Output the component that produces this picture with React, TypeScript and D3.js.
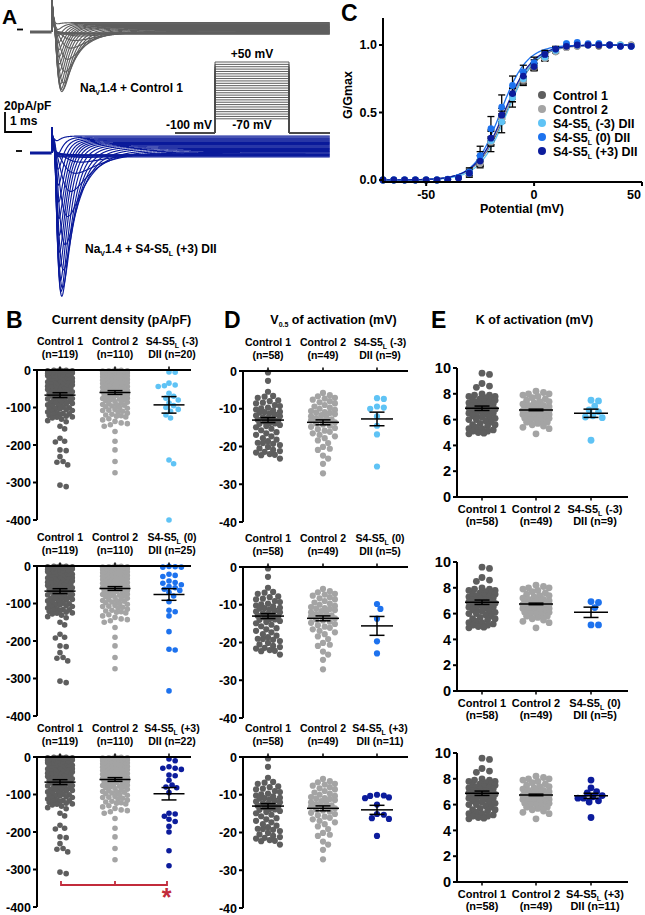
import React from 'react';
import * as d3 from 'd3';

const FONT = '"Liberation Sans", Arial, Helvetica, sans-serif';

// colours of the five groups
const GREY_DARK = '#5e5e5e';
const GREY_LIGHT = '#a4a4a4';
const BLUE_LIGHT = '#5fc3f5';
const BLUE = '#1d72ee';
const NAVY = '#0c1c9c';
const SIG_RED = '#c22b3b';

// ---------- A: step protocol and evoked currents (pA/pF) ----------
const stepMv = [-70, -65, -60, -55, -50, -45, -40, -35, -30, -25, -20, -15, -10, -5, 0, 5, 10, 15, 20, 25, 30, 35, 40, 45, 50];
const peakCtrl = [0, 0, 0, -0.15, -0.6, -1.7, -4.4, -9.4, -17.4, -29, -42, -53.6, -61, -63, -61, -56.5, -50.8, -44.2, -37.7, -31.2, -24.6, -18.1, -11.6, -5.8, -0.7];
const peakMut = [0, 0, 0, -0.3, -1.5, -4.4, -10, -22, -41, -67, -96, -122, -141, -150, -146, -136, -123, -109, -93, -77, -61, -45, -30, -16, -3];
const tauAct = [0.8, 0.75, 0.7, 0.65, 0.6, 0.5, 0.42, 0.34, 0.27, 0.22, 0.18, 0.15, 0.14, 0.13, 0.12, 0.11, 0.1, 0.095, 0.09, 0.085, 0.08, 0.075, 0.07, 0.068, 0.065];
const tauInact = [2.4, 2.3, 2.2, 2.1, 2.0, 1.7, 1.4, 1.1, 0.85, 0.7, 0.58, 0.5, 0.43, 0.38, 0.34, 0.31, 0.29, 0.27, 0.26, 0.25, 0.24, 0.23, 0.22, 0.21, 0.2];
const leakCtrl = [-2.2, -1.7, -1.4, -0.9, -0.4, 0, 0.4, 0.9, 1.3, 1.7, 2.2, 2.6, 3.0, 3.5, 4.1, 4.5, 4.9, 5.5, 5.9, 6.5, 7.1, 7.7, 8.3, 8.8, 9.4];
const leakMut = [-4, -3.2, -2.3, -1.5, -0.7, 0, 0.9, 1.7, 2.6, 3.5, 4.4, 5.2, 6.1, 7, 7.8, 8.7, 9.6, 10.4, 11.3, 12.2, 13, 13.9, 14.9, 16, 17];
const capCtrl = 45;
const capMut = 26;

// ---------- C: conductance-voltage ----------
const potentialMv = [-70, -65, -60, -55, -50, -45, -40, -35, -30, -25, -20, -15, -10, -5, 0, 5, 10, 15, 20, 25, 30, 35, 40, 45];
const gCtrl1 = [0, 0, 0, 0, 0, 0, 0.004, 0.015, 0.05, 0.13, 0.29, 0.46, 0.61, 0.73, 0.83, 0.9, 0.95, 0.98, 0.99, 1.0, 0.99, 1.0, 1.0, 1.0];
const gCtrl2 = [0, 0, 0, 0, 0, 0, 0.004, 0.014, 0.05, 0.12, 0.28, 0.45, 0.61, 0.74, 0.84, 0.9, 0.95, 0.98, 0.99, 1.0, 1.0, 1.0, 1.0, 1.0];
const gMinus3 = [0, 0, 0, 0, 0, 0, 0.005, 0.02, 0.05, 0.15, 0.29, 0.43, 0.61, 0.75, 0.85, 0.91, 0.96, 1.01, 1.0, 1.0, 1.01, 1.0, 1.0, 0.99];
const gZero = [0, 0, 0, 0, 0, 0, 0.006, 0.02, 0.06, 0.18, 0.38, 0.54, 0.7, 0.8, 0.87, 0.93, 0.97, 1.01, 1.02, 1.01, 1.01, 1.0, 0.99, 0.99];
const gPlus3 = [0, 0, 0, 0, 0, 0, 0.004, 0.015, 0.05, 0.14, 0.31, 0.48, 0.64, 0.77, 0.84, 0.93, 0.97, 0.99, 1.0, 1.0, 1.0, 1.0, 0.99, 0.99];
const semCtrl1 = [0, 0, 0, 0, 0, 0, 0.002, 0.005, 0.01, 0.02, 0.03, 0.03, 0.03, 0.025, 0.02, 0.015, 0.01, 0.005, 0.003, 0.002, 0, 0, 0, 0];
const semCtrl2 = [0, 0, 0, 0, 0, 0, 0.002, 0.005, 0.01, 0.02, 0.03, 0.03, 0.03, 0.025, 0.02, 0.015, 0.01, 0.005, 0.003, 0.002, 0, 0, 0, 0];
const semMinus3 = [0, 0, 0, 0, 0, 0, 0.003, 0.01, 0.03, 0.06, 0.08, 0.08, 0.07, 0.05, 0.04, 0.03, 0.02, 0.01, 0.01, 0.01, 0.01, 0, 0, 0];
const semZero = [0, 0, 0, 0, 0, 0, 0.003, 0.01, 0.03, 0.07, 0.09, 0.09, 0.07, 0.05, 0.04, 0.03, 0.02, 0.01, 0.01, 0.01, 0, 0, 0, 0];
const semPlus3 = [0, 0, 0, 0, 0, 0, 0.002, 0.006, 0.015, 0.04, 0.05, 0.05, 0.04, 0.03, 0.025, 0.02, 0.01, 0.005, 0.005, 0, 0, 0, 0, 0];
const fitHalf = [-12.9, -13.4, -12.5, -15.6, -13.9];
const fitSlope = [6.87, 6.72, 6.45, 6.1, 6.65];

// ---------- B: current density (pA/pF) ----------
const densCtrl1 = [0, -1, -1, -2, -2, -3, -3, -4, -5, -6, -6, -7, -8, -9, -10, -11, -12, -13, -13, -14,
  -15, -16, -17, -18, -19, -20, -22, -23, -24, -25, -26, -28, -28, -29, -31, -32, -34, -35, -36, -38,
  -39, -40, -42, -43, -44, -45, -47, -48, -50, -51, -52, -53, -55, -56, -58, -59, -61, -62, -64, -65,
  -66, -68, -69, -71, -72, -74, -76, -77, -79, -81, -82, -84, -86, -88, -89, -91, -93, -95, -97, -99,
  -101, -103, -104, -106, -108, -110, -112, -114, -116, -118, -119, -121, -123, -125, -126, -14, -33, -46, -63, -87, -102, -117,
  -128, -131, -135, -138, -150, -157, -182, -190, -192, -213, -215, -231, -244, -246, -253, -307, -311];
const densCtrl2 = [0, -1, -2, -2, -3, -4, -5, -5, -6, -7, -8, -9, -10, -11, -12, -13, -14, -15, -16, -17,
  -18, -19, -20, -21, -22, -23, -24, -26, -27, -28, -29, -31, -32, -33, -35, -36, -37, -39, -40, -41,
  -43, -44, -46, -47, -48, -50, -51, -53, -54, -56, -57, -59, -60, -62, -63, -65, -66, -68, -70, -71,
  -73, -75, -76, -78, -80, -82, -84, -86, -88, -90, -92, -94, -96, -98, -100, -102, -105, -107, -110, -112,
  -115, -118, -120, -123, -125, -3, -8, -15, -25, -34, -38, -45, -55, -67, -79, -93, -108, -122,
  -130, -133, -137, -141, -143, -146, -150, -164, -190, -213, -244, -274];
const densMinus3 = [-5, -6, -35, -42, -44, -40, -62, -70, -75, -80, -88, -95, -100, -105, -110, -120, -128, -240, -250, -400];
const densZero = [-1, -2, -3, -3, -22, -25, -28, -40, -44, -46, -50, -55, -58, -62, -65, -70, -80, -95, -118, -122, -133, -175, -222, -224, -333];
const densPlus3 = [-5, -10, -30, -26, -30, -33, -48, -50, -75, -80, -82, -95, -150, -152, -158, -166, -172, -185, -200, -250, -290, -62];
const densMean = [-67, -60, -93, -76, -98];
const densSem = [6.5, 5, 22, 15.5, 16.5];

// ---------- D: V0.5 of activation (mV) ----------
const halfCtrl1 = [-0.4, -2.6, -5.5, -6.6, -6.8, -7.1, -7.8, -8.0, -8.4, -8.6, -9.0, -9.3, -9.7, -9.9, -10.2, -10.4, -10.8, -11.0, -11.2, -11.5,
  -11.8, -12.0, -12.3, -12.7, -12.9, -13.1, -13.4, -13.8, -14.0, -14.3, -14.6, -14.9, -15.3, -15.7, -16.2, -16.5, -16.9, -17.3, -17.8, -18.2,
  -18.6, -19.0, -19.1, -19.3, -19.6, -20.1, -20.5, -20.9, -21.2, -21.4, -21.6, -22.0, -22.2, -22.3, -23.2, -10.9, -12.4, -13.9];
const halfCtrl2 = [-5.8, -6.4, -6.7, -7.1, -7.3, -7.6, -8.0, -8.3, -8.6, -9.0, -9.4, -9.7, -10.0, -10.3, -10.6, -10.9, -11.1, -11.4, -11.7, -12.0,
  -12.2, -12.5, -12.8, -13.1, -13.3, -13.6, -13.9, -14.2, -14.5, -14.8, -15.1, -15.4, -15.8, -16.1, -16.5, -16.9, -17.3, -17.8, -18.4, -19.1,
  -20.1, -20.6, -20.9, -22.4, -23.2, -24.6, -27.1, -11.0, -13.0];
const halfMinus3 = [-7.4, -7.2, -10.0, -9.4, -9.7, -12.0, -14.5, -16.8, -25.3];
const halfZero = [-9.8, -11.1, -13.7, -19.7, -22.9];
const halfPlus3 = [-10.7, -10.3, -10.0, -10.2, -10.9, -12.6, -15.1, -15.3, -16.2, -16.4, -20.9];
const halfMean = [-13.0, -13.6, -12.7, -15.6, -14.0];
const halfSem = [0.65, 0.65, 1.8, 2.5, 1.2];

// ---------- E: K of activation (mV) ----------
const kCtrl1 = [9.6, 9.5, 8.8, 8.6, 8.5, 8.0, 7.9, 7.9, 7.8, 7.8, 7.7, 7.6, 7.6, 7.5, 7.5, 7.4, 7.4, 7.3, 7.2, 7.2,
  7.1, 7.1, 7.0, 7.0, 6.9, 6.9, 6.8, 6.8, 6.7, 6.7, 6.6, 6.6, 6.5, 6.5, 6.4, 6.4, 6.3, 6.2, 6.2, 6.1,
  6.0, 6.0, 5.9, 5.8, 5.7, 5.6, 5.6, 5.5, 5.4, 5.3, 5.3, 5.2, 5.1, 5.1, 5.0, 4.95, 4.9, 7.3];
const kCtrl2 = [8.2, 8.1, 8.0, 8.0, 7.9, 7.8, 7.7, 7.6, 7.5, 7.4, 7.4, 7.3, 7.2, 7.1, 7.1, 7.0, 7.0, 6.9, 6.9, 6.9,
  6.8, 6.8, 6.7, 6.7, 6.6, 6.6, 6.6, 6.5, 6.5, 6.4, 6.4, 6.3, 6.3, 6.2, 6.2, 6.1, 6.1, 6.0, 6.0, 5.9,
  5.8, 5.8, 5.7, 5.6, 5.5, 5.4, 5.3, 4.9, 6.8];
const kMinus3 = [7.5, 7.45, 7.05, 6.75, 6.6, 6.2, 6.15, 6.3, 4.4];
const kZero = [6.86, 6.93, 6.47, 5.12, 5.12];
const kPlus3 = [7.9, 7.3, 7.0, 6.9, 6.7, 6.6, 6.5, 6.5, 6.3, 6.2, 5.0];
const kMean = [6.88, 6.75, 6.49, 6.1, 6.68];
const kSem = [0.17, 0.06, 0.32, 0.4, 0.2];

const nDens = [119, 110, 20, 25, 22];
const nFit = [58, 49, 9, 5, 11];
const mutTags = ['(-3)', '(0)', '(+3)'];
const mutColors = [BLUE_LIGHT, BLUE, NAVY];

// ---------- helpers ----------
const swarm = (vals: number[], y: (v: number) => number, r: number, spread: number) => {
  const pts = vals.map(v => y(v)).sort((a, b) => a - b);
  const minD = 2 * r * 0.92;
  const step = r * 0.55;
  const offsets = [0];
  for (let k = 1; k * step <= spread + 1e-6; k++) offsets.push(k * step, -k * step);
  const placed: { x: number; y: number }[] = [];
  pts.forEach(py => {
    let best = 0, bestD = -1;
    for (const off of offsets) {
      let md = Infinity;
      for (const q of placed) {
        const dy = q.y - py;
        if (Math.abs(dy) >= minD) continue;
        md = Math.min(md, Math.hypot(q.x - off, dy));
      }
      if (md >= minD) { best = off; break; }
      if (md > bestD) { bestD = md; best = off; }
    }
    placed.push({ x: best, y: py });
  });
  return placed;
};

// text with one subscript: before + sub + after
const SubText = ({ pre, sub, post, size = 7, shift = 3 }: any) => (
  <>
    {pre}
    <tspan dy={shift} fontSize={size}>{sub}</tspan>
    <tspan dy={-shift}>{post}</tspan>
  </>
);

const mutLabel = (tag: string, tail = '') => <SubText pre="S4-S5" sub="L" post={` ${tag}${tail}`} />;

type Group = { values: number[]; color: string; mean: number; sem: number; line1: any; line2: string };

const DotPanel = ({ axisX, axisEnd, y, ticks, centers, groups, above, r, spread, meanHalf, capHalf, tickFont, labelFont, labelDx }: any) => {
  const [d0, d1] = y.domain();
  const zeroY = y(0);
  return (
    <g>
      {groups.map((g: Group, gi: number) => {
        const pts = swarm(g.values, y, r, spread);
        return (
          <g key={'dots' + gi}>
            {pts.map((p, i) => <circle key={i} cx={centers[gi] + p.x} cy={p.y} r={r} fill={g.color} />)}
          </g>
        );
      })}
      {groups.map((g: Group, gi: number) => {
        const cx = centers[gi];
        return (
          <g key={'ms' + gi} stroke="#000" strokeWidth={1.5}>
            <line x1={cx - meanHalf} x2={cx + meanHalf} y1={y(g.mean)} y2={y(g.mean)} />
            <line x1={cx} x2={cx} y1={y(g.mean - g.sem)} y2={y(g.mean + g.sem)} />
            <line x1={cx - capHalf} x2={cx + capHalf} y1={y(g.mean - g.sem)} y2={y(g.mean - g.sem)} />
            <line x1={cx - capHalf} x2={cx + capHalf} y1={y(g.mean + g.sem)} y2={y(g.mean + g.sem)} />
          </g>
        );
      })}
      <g stroke="#000" strokeWidth={2} fill="none">
        <line x1={axisX} x2={axisX} y1={y(d0)} y2={y(d1)} />
        <line x1={axisX - 1} x2={axisEnd} y1={zeroY} y2={zeroY} />
        {ticks.map((t: number) => <line key={t} x1={axisX - 4} x2={axisX} y1={y(t)} y2={y(t)} />)}
        {centers.map((c: number, i: number) => (
          <line key={i} x1={c} x2={c} y1={zeroY} y2={above ? zeroY - 3.5 : zeroY + 3.5} strokeWidth={1.5} />
        ))}
      </g>
      <g fontFamily={FONT} fontWeight="bold" fontSize={tickFont} textAnchor="end">
        {ticks.map((t: number) => (
          <text key={t} x={axisX - 6} y={y(t)} dy="0.36em">{t}</text>
        ))}
      </g>
      <g fontFamily={FONT} fontWeight="bold" fontSize={labelFont} textAnchor="middle">
        {groups.map((g: Group, gi: number) => {
          const cx = centers[gi] + (gi === 2 ? labelDx : 0);
          const yA = above ? zeroY - 25 : zeroY + 15.5;
          const yB = above ? zeroY - 12 : zeroY + 28;
          return (
            <g key={'lab' + gi}>
              <text x={cx} y={yA}>{g.line1}</text>
              <text x={cx} y={yB}>{g.line2}</text>
            </g>
          );
        })}
      </g>
    </g>
  );
};

// ---------- panel A ----------
const tScale = d3.scaleLinear().domain([-0.8, 10.3]).range([30, 330]);
const iCtrlScale = d3.scaleLinear().domain([0, -20]).range([32, 52]);
const iMutScale = d3.scaleLinear().domain([0, -20]).range([153, 173]);
const vScale = d3.scaleLinear().domain([-100, 50]).range([133, 62]);
const tSamples = d3.range(0, 10.3, 0.01);

const currentTrace = (k: number, peaks: number[], leaks: number[], cap: number) => {
  const tm = tauAct[k], th = tauInact[k];
  const gate = (t: number) => (t <= 0 ? 0 : Math.pow(1 - Math.exp(-t / tm), 3) * Math.exp(-t / th));
  const norm = d3.max(tSamples, t => gate(t)) || 1;
  const pts: [number, number][] = [[0, 0]];
  tSamples.forEach(t => {
    pts.push([t, cap * Math.exp(-t / 0.05) + leaks[k] * (1 - Math.exp(-t / 0.1)) + (peaks[k] * gate(t - 0.08)) / norm]);
  });
  return pts;
};

const PanelA = () => {
  const lineCtrl = d3.line<[number, number]>().x(d => tScale(d[0])).y(d => iCtrlScale(d[1]));
  const lineMut = d3.line<[number, number]>().x(d => tScale(d[0])).y(d => iMutScale(d[1]));
  const pre: [number, number][] = [[-0.8, 0], [0, 0]];
  const xOn = 215, xOff = 289, xStart = 175, xEnd = 330;
  return (
    <g>
      {/* control traces */}
      <path d={lineCtrl(pre) || ''} stroke="#5f5f5f" strokeWidth={3} fill="none" />
      {stepMv.map((v, k) => (
        <path key={'c' + v} d={lineCtrl(currentTrace(k, peakCtrl, leakCtrl, capCtrl)) || ''} stroke="#5f5f5f" strokeWidth={1.15} fill="none" />
      ))}
      {/* mutant traces */}
      <path d={lineMut(pre) || ''} stroke="#0a1a9a" strokeWidth={3} fill="none" />
      {stepMv.map((v, k) => (
        <path key={'m' + v} d={lineMut(currentTrace(k, peakMut, leakMut, capMut)) || ''} stroke="#0a1a9a" strokeWidth={1.15} fill="none" />
      ))}
      {/* zero markers */}
      <line x1={17} x2={23} y1={iCtrlScale(0) - 2.5} y2={iCtrlScale(0) - 2.5} stroke="#000" strokeWidth={1.8} />
      <line x1={16} x2={22} y1={iMutScale(0) - 2} y2={iMutScale(0) - 2} stroke="#000" strokeWidth={1.8} />
      {/* voltage protocol */}
      <g stroke="#4a4a4a" strokeWidth={0.9} fill="none">
        {stepMv.map(v => (
          <path key={'p' + v} d={`M${xStart},${vScale(-100)}H${xOn}V${vScale(v)}H${xOff}V${vScale(-100)}H${xEnd}`} />
        ))}
      </g>
      {/* scale bar */}
      <path d={`M5,${112}V${112 + (iCtrlScale(-20) - iCtrlScale(0))}H${5 + (tScale(1) - tScale(0))}`} stroke="#000" strokeWidth={1.8} fill="none" />
      <g fontFamily={FONT} fontWeight="bold" fontSize={12} fill="#000">
        <text x={4} y={110}>20pA/pF</text>
        <text x={10} y={125}>1 ms</text>
        <text x={252} y={58} textAnchor="middle">+50 mV</text>
        <text x={212} y={129} textAnchor="end">-100 mV</text>
        <text x={252} y={129} textAnchor="middle">-70 mV</text>
        <text x={80} y={92}><SubText pre="Na" sub="V" post="1.4 + Control 1" /></text>
        <text x={85} y={253}>Na<tspan dy={3} fontSize={7}>V</tspan><tspan dy={-3}>1.4 + S4-S5</tspan><tspan dy={3} fontSize={7}>L</tspan><tspan dy={-3}> (+3) DII</tspan></text>
      </g>
    </g>
  );
};

// ---------- panel C ----------
const PanelC = () => {
  const x = d3.scaleLinear().domain([-70, 50]).range([383, 642]);
  const y = d3.scaleLinear().domain([-0.015, 1.2]).range([182, 18]);
  const series = [
    { g: gCtrl1, s: semCtrl1, c: GREY_DARK, name: <>Control 1</> },
    { g: gCtrl2, s: semCtrl2, c: GREY_LIGHT, name: <>Control 2</> },
    { g: gMinus3, s: semMinus3, c: BLUE_LIGHT, name: mutLabel('(-3)', ' DII') },
    { g: gZero, s: semZero, c: BLUE, name: mutLabel('(0)', ' DII') },
    { g: gPlus3, s: semPlus3, c: NAVY, name: mutLabel('(+3)', ' DII') },
  ];
  const vFine = d3.range(-70, 45.01, 0.5);
  const fit = d3.line<number>().x(v => x(v));
  return (
    <g>
      {series.map((s, si) => (
        <path key={'f' + si}
          d={fit.y(v => y(1 / (1 + Math.exp((fitHalf[si] - v) / fitSlope[si]))))(vFine) || ''}
          stroke={s.c} strokeWidth={1.3} fill="none" />
      ))}
      <g stroke="#000" strokeWidth={1.3}>
        {series.map((s, si) => potentialMv.map((v, i) => s.s[i] > 0.012 ? (
          <g key={si + '-' + i}>
            <line x1={x(v)} x2={x(v)} y1={y(s.g[i] - s.s[i])} y2={y(s.g[i] + s.s[i])} />
            <line x1={x(v) - 3.5} x2={x(v) + 3.5} y1={y(s.g[i] + s.s[i])} y2={y(s.g[i] + s.s[i])} />
            <line x1={x(v) - 3.5} x2={x(v) + 3.5} y1={y(s.g[i] - s.s[i])} y2={y(s.g[i] - s.s[i])} />
          </g>
        ) : null))}
      </g>
      {series.map((s, si) => (
        <g key={'d' + si}>
          {potentialMv.map((v, i) => <circle key={i} cx={x(v)} cy={y(s.g[i])} r={3.4} fill={s.c} />)}
        </g>
      ))}
      <g stroke="#000" strokeWidth={2}>
        <line x1={x(-70)} x2={x(-70)} y1={18} y2={183} />
        <line x1={x(-70) - 1} x2={x(50)} y1={182} y2={182} />
        {[0, 0.5, 1].map(t => <line key={t} x1={x(-70) - 4} x2={x(-70)} y1={y(t)} y2={y(t)} />)}
        {[-50, 0, 50].map(t => <line key={t} x1={x(t)} x2={x(t)} y1={182} y2={186} />)}
      </g>
      <g fontFamily={FONT} fontWeight="bold" fontSize={12.5}>
        {[0, 0.5, 1].map(t => (
          <text key={t} x={x(-70) - 6} y={y(t)} dy="0.36em" textAnchor="end">{d3.format('.1f')(t)}</text>
        ))}
        {[-50, 0, 50].map(t => (
          <text key={t} x={x(t) - (t === 50 ? 8 : 0)} y={199} textAnchor="middle">{t}</text>
        ))}
        <text x={522} y={213} textAnchor="middle">Potential (mV)</text>
        <text transform="translate(352,95) rotate(-90)" textAnchor="middle">G/Gmax</text>
        {series.map((s, si) => (
          <g key={'l' + si}>
            <circle cx={542} cy={95 + si * 14} r={4} fill={s.c} />
            <text x={553} y={95 + si * 14 + 4.5}>{s.name}</text>
          </g>
        ))}
      </g>
    </g>
  );
};

// ---------- B, D, E ----------
const bZero = [370, 566, 757];
const dZero = [371, 567, 757];
const eZero = [497, 691, 882];
const densByRow = [densMinus3, densZero, densPlus3];
const halfByRow = [halfMinus3, halfZero, halfPlus3];
const kByRow = [kMinus3, kZero, kPlus3];

const makeGroups = (ctrl1: number[], ctrl2: number[], mut: number[], row: number, means: number[], sems: number[], ns: number[]) => [
  { values: ctrl1, color: GREY_DARK, mean: means[0], sem: sems[0], line1: 'Control 1', line2: `(n=${ns[0]})` },
  { values: ctrl2, color: GREY_LIGHT, mean: means[1], sem: sems[1], line1: 'Control 2', line2: `(n=${ns[1]})` },
  { values: mut, color: mutColors[row], mean: means[2 + row], sem: sems[2 + row], line1: mutLabel(mutTags[row]), line2: `DII (n=${ns[2 + row]})` },
];

const App = () => {
  return (
    <svg width={645} height={915} style={{ position: 'absolute', left: 0, top: 0, background: '#fff' }}>
      <rect width={645} height={915} fill="#fff" />
      <PanelA />
      <PanelC />
      {bZero.map((z, row) => (
        <DotPanel key={'B' + row}
          axisX={37} axisEnd={191}
          y={d3.scaleLinear().domain([-400, 0]).range([z + 150, z])}
          ticks={[0, -100, -200, -300, -400]}
          centers={[60, 115, 169]}
          groups={makeGroups(densCtrl1, densCtrl2, densByRow[row], row, densMean, densSem, nDens)}
          above r={2.8} spread={12.5} meanHalf={15.5} capHalf={7.5} tickFont={12.5} labelFont={10.5} labelDx={3} />
      ))}
      {dZero.map((z, row) => (
        <DotPanel key={'D' + row}
          axisX={243} axisEnd={408}
          y={d3.scaleLinear().domain([-40, 0]).range([z + 151, z])}
          ticks={[0, -10, -20, -30, -40]}
          centers={[268, 323, 377]}
          groups={makeGroups(halfCtrl1, halfCtrl2, halfByRow[row], row, halfMean, halfSem, nFit)}
          above r={3.1} spread={13.5} meanHalf={16} capHalf={7.5} tickFont={12.5} labelFont={10.5} labelDx={3} />
      ))}
      {eZero.map((z, row) => (
        <DotPanel key={'E' + row}
          axisX={457} axisEnd={628}
          y={d3.scaleLinear().domain([0, 10]).range([z, z - 129])}
          ticks={[0, 2, 4, 6, 8, 10]}
          centers={[482, 536, 591]}
          groups={makeGroups(kCtrl1, kCtrl2, kByRow[row], row, kMean, kSem, nFit)}
          above={false} r={3.4} spread={13.5} meanHalf={17} capHalf={7.5} tickFont={14.5} labelFont={11} labelDx={4} />
      ))}
      {/* significance bracket, row 3 of B */}
      <path d={`M61,881V885H167V881M115,885V881`} stroke={SIG_RED} strokeWidth={1.8} fill="none" />
      <text x={166.5} y={906} textAnchor="middle" fontFamily={FONT} fontWeight="bold" fontSize={25} fill={SIG_RED}>*</text>
      {/* titles and panel letters */}
      <g fontFamily={FONT} fontWeight="bold" fill="#000">
        <text x={2} y={24} fontSize={21}>A</text>
        <text x={341} y={21} fontSize={23}>C</text>
        <text x={6} y={328} fontSize={23}>B</text>
        <text x={224} y={328} fontSize={23}>D</text>
        <text x={431} y={328} fontSize={23}>E</text>
        <text x={121.5} y={324} fontSize={12.5} textAnchor="middle">Current density (pA/pF)</text>
        <text x={333.5} y={324} fontSize={12.5} textAnchor="middle"><SubText pre="V" sub="0.5" post=" of activation (mV)" /></text>
        <text x={534.5} y={324} fontSize={12.5} textAnchor="middle">K of activation (mV)</text>
      </g>
    </svg>
  );
};

export default App;
